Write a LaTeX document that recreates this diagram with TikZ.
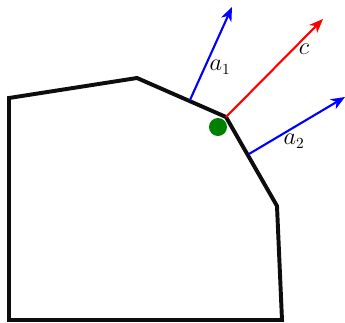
\documentclass[tikz,border=0pt]{standalone}
\usepackage{tikz}
\usetikzlibrary{arrows.meta, positioning, calc}

\begin{document}
\begin{tikzpicture}[
        x=0.025cm, y=-0.025cm,
        facet/.style={line width=2.8pt, black!95, line join=miter},
        vec/.style={-{Stealth[length=10pt, width=8pt, inset=3pt]}, line width=1.5pt},
        lbl/.style={font=\fontsize{16}{18}\selectfont, inner sep=1pt},
        dot/.style={circle, fill=green!50!black, inner sep=0pt, minimum size=0.45cm}
    ]
        \useasboundingbox (0,0) rectangle (345,323);

        % Polygon corners
        \coordinate (p1) at (9,98);
        \coordinate (p2) at (137,78);
        \coordinate (p3) at (226,117);
        \coordinate (p4) at (277,206);
        \coordinate (p5) at (282,320);
        \coordinate (p6) at (9,320);

        % Polygon
        \draw[facet] (p1) -- (p2) -- (p3) -- (p4) -- (p5) -- (p6) -- cycle;

        % Arrow ends
        \coordinate (a1s) at (190,100);
        \coordinate (a1e) at (232,7);
        \coordinate (ce) at (323,19);
        \coordinate (a2s) at (249,154);
        \coordinate (a2e) at (345,97);

        % Vectors
        \draw[vec, blue] (a1s) -- (a1e);
        \draw[vec, red] (p3) -- (ce);
        \draw[vec, blue] (a2s) -- (a2e);

        % Point
        \node[dot] (pt) at (218,127) {};

        % Labels
        \node[lbl] (la1) at (220,67) {$a_1$};
        \node[lbl] (lc) at (304,49) {$c$};
        \node[lbl] (la2) at (294,141) {$a_2$};

    \end{tikzpicture}
\end{document}
